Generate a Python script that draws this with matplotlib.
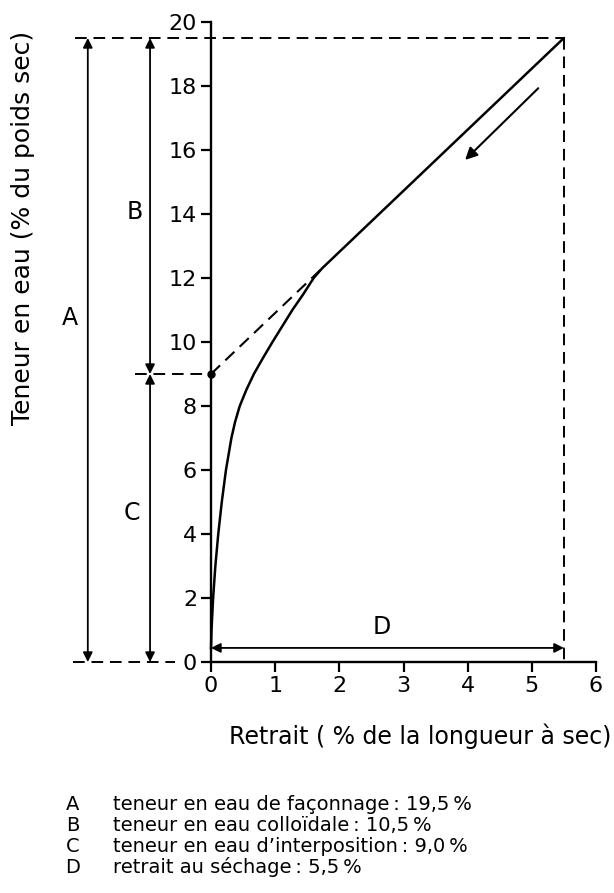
import matplotlib
matplotlib.use("Agg")
import matplotlib.pyplot as plt

plt.rcParams['font.family'] = ['DejaVu Sans']

# Drying curve: shrinkage (% of dry length) vs. water content (% of dry weight)
shrinkage = [0.0, 0.008, 0.033, 0.068, 0.113, 0.168, 0.233, 0.318, 0.375, 0.448,
             0.55, 0.668, 0.81, 0.958, 1.268, 1.44, 1.60, 1.73, 5.5]
water = [0.4, 1.0, 2.0, 3.0, 4.0, 5.0, 6.0, 7.0, 7.5, 8.0,
         8.5, 9.0, 9.5, 10.0, 11.0, 11.5, 12.0, 12.3, 19.5]

# Characteristic quantities
letters = ['A', 'B', 'C', 'D']
values = [19.5, 10.5, 9.0, 5.5]
descriptions = ['teneur en eau de façonnage', 'teneur en eau colloïdale',
                "teneur en eau d\u2019interposition", 'retrait au séchage']
value_labels = ['19,5\u2009%', '10,5\u2009%', '9,0\u2009%', '5,5\u2009%']

x_ticks = [0, 1, 2, 3, 4, 5, 6]
y_ticks = [0, 2, 4, 6, 8, 10, 12, 14, 16, 18, 20]

A, B, C, D = values

fig = plt.figure(figsize=(6.14, 8.93), dpi=100)
ax = fig.add_axes([211 / 614, 1 - 662 / 893, (596 - 211) / 614, (662 - 22) / 893])
ax.set_xlim(0, 6)
ax.set_ylim(0, 20)
for s in ['top', 'right']:
    ax.spines[s].set_visible(False)
for s in ['left', 'bottom']:
    ax.spines[s].set_linewidth(1.7)
ax.set_xticks(x_ticks)
ax.set_yticks(y_ticks)
ax.tick_params(direction='out', length=7, width=1.6, labelsize=16, pad=3)

k = 'black'
dash = (0, (6, 3.5))

# main curve
ax.plot(shrinkage, water, color=k, lw=1.8, solid_capstyle='round',
        solid_joinstyle='round', clip_on=False)
# tangent extrapolation to zero shrinkage
ax.plot([0, shrinkage[-2]], [C, water[-2]], color=k, lw=1.5, linestyle=dash, clip_on=False)
ax.plot([0], [C], 'o', color=k, ms=5, clip_on=False)

# guide lines
ax.plot([-2.12, D], [A, A], color=k, lw=1.4, linestyle=dash, clip_on=False)
ax.plot([D, D], [A, 0], color=k, lw=1.4, linestyle=dash, clip_on=False)
ax.plot([-1.19, 0], [C, C], color=k, lw=1.4, linestyle=dash, clip_on=False)
ax.plot([-2.15, -0.56], [0, 0], color=k, lw=1.4, linestyle=dash, clip_on=False)

arr = dict(arrowstyle='<|-|>', color=k, lw=1.3, mutation_scale=14, shrinkA=0, shrinkB=0)
ax.annotate('', xy=(-1.92, A), xytext=(-1.92, 0), arrowprops=arr, annotation_clip=False)
ax.annotate('', xy=(-0.95, C + B), xytext=(-0.95, C), arrowprops=arr, annotation_clip=False)
ax.annotate('', xy=(-0.95, C), xytext=(-0.95, 0), arrowprops=arr, annotation_clip=False)
ax.annotate('', xy=(D, 0.44), xytext=(0, 0.44), arrowprops=arr, annotation_clip=False)

# drying direction
ax.annotate('', xy=(3.96, 15.69), xytext=(5.10, 17.93),
            arrowprops=dict(arrowstyle='-|>', color=k, lw=1.5, mutation_scale=18,
                            shrinkA=0, shrinkB=0), annotation_clip=False)

lab = dict(fontsize=17, ha='center', va='center', color=k)
ax.text(-2.20, 10.75, letters[0], **lab)
ax.text(-1.19, 14.06, letters[1], **lab)
ax.text(-1.23, 4.65, letters[2], **lab)
ax.text(2.66, 1.10, letters[3], **lab)

fig.text(420 / 614, 1 - 736 / 893, 'Retrait ( % de la longueur à sec)', fontsize=17,
         ha='center', va='center')
fig.text(23 / 614, 1 - 228 / 893, 'Teneur en eau (% du poids sec)', fontsize=18,
         ha='center', va='center', rotation=90)

# key
y0 = 1 - 805 / 893
dy = 20.7 / 893
for i, (l, d, v) in enumerate(zip(letters, descriptions, value_labels)):
    y = y0 - i * dy
    fig.text(73 / 614, y, l, fontsize=14, ha='center', va='center')
    fig.text(113 / 614, y, f'{d}\u2009: {v}', fontsize=14, ha='left', va='center')

fig.savefig('out.png', dpi=100, facecolor='white')
